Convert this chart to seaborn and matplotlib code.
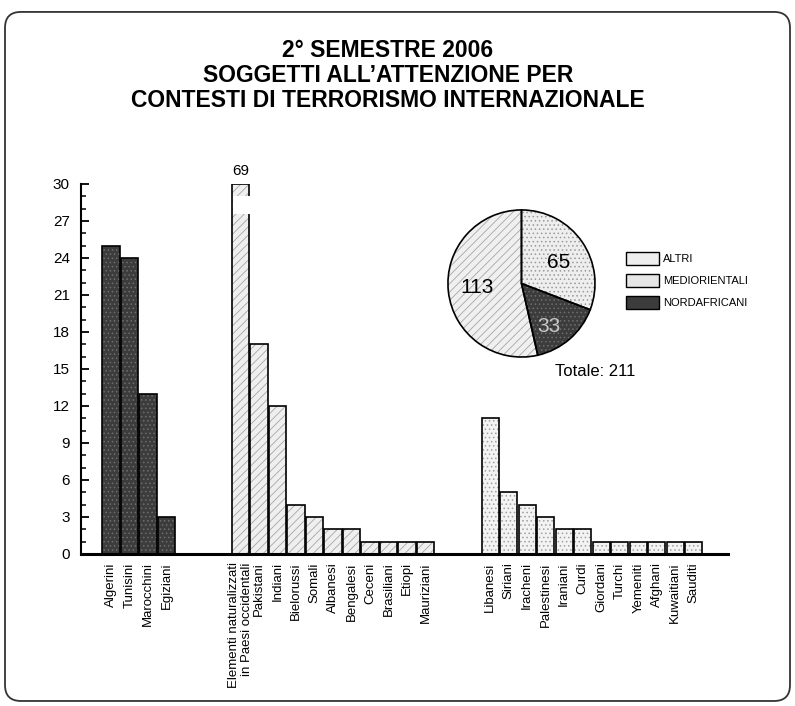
import numpy as np
import pandas as pd
import seaborn as sns
import matplotlib.pyplot as plt
from matplotlib.patches import Patch, FancyBboxPatch, Rectangle

# dati (2° semestre 2006)
nordafricani = ['Algerini', 'Tunisini', 'Marocchini', 'Egiziani']
nordafricani_n = [25, 24, 13, 3]

altri = ['Elementi naturalizzati\nin Paesi occidentali', 'Pakistani', 'Indiani',
         'Bielorussi', 'Somali', 'Albanesi', 'Bengalesi', 'Ceceni', 'Brasiliani',
         'Etiopi', 'Mauriziani']
altri_n = [69, 17, 12, 4, 3, 2, 2, 1, 1, 1, 1]

mediorientali = ['Libanesi', 'Siriani', 'Iracheni', 'Palestinesi', 'Iraniani', 'Curdi',
                 'Giordani', 'Turchi', 'Yemeniti', 'Afghani', 'Kuwaitiani', 'Sauditi']
mediorientali_n = [11, 5, 4, 3, 2, 2, 1, 1, 1, 1, 1, 1]

# torta (valori come stampati)
pie_values = [65, 33, 113]
pie_labels = ['65', '33', '113']
totale = 211
legend_labels = ['ALTRI', 'MEDIORIENTALI', 'NORDAFRICANI']

titolo = ['2° SEMESTRE 2006',
          'SOGGETTI ALL\u2019ATTENZIONE PER',
          'CONTESTI DI TERRORISMO INTERNAZIONALE']

GROUP_START = [0, 7, 20.5]   # posizione del primo istogramma di ogni gruppo
YMAX = 30
BAR_W = 0.93

sns.set_style('ticks')
plt.rcParams['font.family'] = ['Liberation Sans', 'DejaVu Sans']
plt.rcParams['hatch.linewidth'] = 0.6
for k in ['text.color', 'axes.edgecolor', 'axes.labelcolor', 'xtick.color', 'ytick.color']:
    plt.rcParams[k] = 'black'

fig = plt.figure(figsize=(7.95, 7.06), dpi=100)
ax = fig.add_axes([0.1019, 0.2153, 0.8138, 0.5241])

groups = [
    (nordafricani, nordafricani_n, '#3c3c3c', '#6e6e6e', '....'),
    (altri, altri_n, '#efefef', '#a6a6a6', '////'),
    (mediorientali, mediorientali_n, '#f3f3f3', '#a0a0a0', '....'),
]

all_pos, all_names = [], []
for (names, vals, fc, hc, hatch), start in zip(groups, GROUP_START):
    df = pd.DataFrame({'pos': start + np.arange(len(names)),
                       'n': np.minimum(vals, YMAX)})
    sns.barplot(data=df, x='pos', y='n', native_scale=True, width=BAR_W,
                color=fc, saturation=1, edgecolor=hc, hatch=hatch, linewidth=0,
                errorbar=None, ax=ax)
    sns.barplot(data=df, x='pos', y='n', native_scale=True, width=BAR_W,
                color='black', fill=False, linewidth=1.2, errorbar=None, ax=ax)
    all_pos += list(df['pos'])
    all_names += names

# barra interrotta (69)
ep = GROUP_START[1]
ax.add_patch(Rectangle((ep - BAR_W / 2 + 0.07, 27.6), BAR_W, 1.4,
                       facecolor='white', edgecolor='none', zorder=5))
ax.annotate(str(altri_n[0]), (ep, YMAX), xytext=(0, 4), textcoords='offset points',
            ha='center', va='bottom', fontsize=11, annotation_clip=False)

ax.set_xlim(-1.62, 33.35)
ax.set_ylim(0, YMAX)
ax.set_xticks(all_pos)
ax.set_xticklabels(all_names, rotation=90, fontsize=9.5, va='top', ha='center',
                   multialignment='right')
ax.tick_params(axis='x', length=0, pad=6)
ax.set_yticks(range(0, 31, 3))
ax.set_yticks(range(0, 31), minor=True)
ax.tick_params(axis='y', which='major', direction='in', length=6, width=1.3,
               labelsize=11, pad=8)
ax.tick_params(axis='y', which='minor', direction='in', length=3.5, width=1.1)
ax.set_xlabel('')
ax.set_ylabel('')
sns.despine(ax=ax)
ax.spines['left'].set_linewidth(1.5)
ax.spines['bottom'].set_linewidth(2.2)

# torta
pax = fig.add_axes([0.5616, 0.4922, 0.1887, 0.2125])
wc = ['#eeeeee', '#3c3c3c', '#f0f0f0']
wh = ['....', '....', '////']
whc = ['#9a9a9a', '#6e6e6e', '#a6a6a6']
wedges, _ = pax.pie(pie_values, startangle=90, counterclock=False, colors=wc,
                    wedgeprops=dict(linewidth=0))
for w, h, c in zip(wedges, wh, whc):
    w.set_hatch(h)
    w.set_edgecolor(c)
    w.set_linewidth(0)
pax.pie(pie_values, startangle=90, counterclock=False,
        wedgeprops=dict(fill=False, edgecolor='black', linewidth=1.2))
pax.set_xlim(-1.02, 1.02)
pax.set_ylim(-1.02, 1.02)
label_xy = [(0.51, 0.29), (0.37, -0.58), (-0.60, -0.06)]
label_col = ['black', '#c8c8c8', 'black']
for t, (lx, ly), c in zip(pie_labels, label_xy, label_col):
    pax.text(lx, ly, t, ha='center', va='center', fontsize=15, color=c)

fig.text(595 / 795, 1 - 372 / 706, f'Totale: {totale}', ha='center', va='center',
         fontsize=12)

handles = [Patch(facecolor='#eeeeee', edgecolor='black', linewidth=1),
           Patch(facecolor='#e6e6e6', edgecolor='black', linewidth=1),
           Patch(facecolor='#3c3c3c', edgecolor='black', linewidth=1)]
fig.legend(handles, legend_labels, loc='upper left',
           bbox_to_anchor=(626 / 795, 1 - 252 / 706), frameon=False, fontsize=8,
           handlelength=3.0, handleheight=1.45, handletextpad=0.35,
           labelspacing=0.8, borderpad=0, borderaxespad=0)

# titolo
for i, line in enumerate(titolo):
    fig.text(388 / 795, 1 - (50.5 + 25 * i) / 706, line, ha='center', va='center',
             fontsize=16.5, fontweight='bold')

# cornice arrotondata
fig.patches.append(FancyBboxPatch((0.0063, 0.0071), 0.9874, 0.976,
                                  boxstyle='round,pad=0,rounding_size=0.02',
                                  mutation_aspect=795 / 706, transform=fig.transFigure,
                                  fill=False, edgecolor='#333333', linewidth=1.3))

fig.savefig('out.png', dpi=100)
